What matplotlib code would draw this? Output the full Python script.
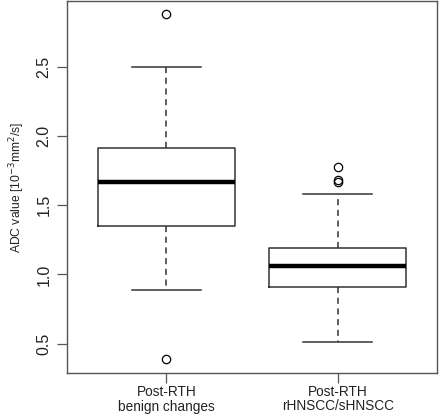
import matplotlib
matplotlib.use("Agg")
import matplotlib.pyplot as plt

# values
groups = ["Post-RTH\nbenign changes", "Post-RTH\nrHNSCC/sHNSCC"]
whisker_lo = [0.887, 0.512]
q1 = [1.353, 0.906]
median = [1.670, 1.058]
q3 = [1.915, 1.190]
whisker_hi = [2.500, 1.578]
outliers = [[2.879, 0.390], [1.777, 1.683, 1.667]]
yticks = [0.5, 1.0, 1.5, 2.0, 2.5]

edge = "#333333"
plt.rcParams["font.family"] = ["Liberation Sans", "DejaVu Sans"]

fig = plt.figure(figsize=(4.4, 4.17), dpi=100)
ax = fig.add_axes([67 / 440, 1 - 373 / 417, 370 / 440, 372 / 417])

stats = []
for i in range(len(groups)):
    stats.append({"whislo": whisker_lo[i], "q1": q1[i], "med": median[i],
                  "q3": q3[i], "whishi": whisker_hi[i], "fliers": outliers[i]})

ax.bxp(stats, positions=[1, 2], widths=0.8, patch_artist=False,
       boxprops=dict(color=edge, lw=1.1),
       medianprops=dict(color="black", lw=3.2, solid_capstyle="butt"),
       whiskerprops=dict(color=edge, lw=1.1, ls=(0, (4, 3))),
       capprops=dict(color=edge, lw=1.1),
       capwidths=0.4,
       flierprops=dict(marker="o", markerfacecolor="none", markeredgecolor="black",
                       markersize=6, markeredgewidth=0.9))

ax.set_xlim(0.42, 2.58)
ax.set_ylim(0.288, 2.975)
ax.set_yticks(yticks)
ax.set_yticklabels([f"{v:.1f}" for v in yticks], rotation=90, va="center")
ax.set_xticks([1, 2])
ax.set_xticklabels(groups, linespacing=1.0, fontsize=9.8)
ax.tick_params(axis="both", direction="out", length=7, width=0.9, color="#555555",
               labelcolor="#222222")
ax.tick_params(axis="y", labelsize=11.5, pad=4)
ax.tick_params(axis="x", pad=2)
for s in ax.spines.values():
    s.set_color("#555555")
    s.set_linewidth(1.0)

ax.set_ylabel(r"ADC value [10$^{-3}$mm$^{2}$/s]", fontsize=8.7, color="#222222", labelpad=7)

fig.savefig("out.png", dpi=100)
